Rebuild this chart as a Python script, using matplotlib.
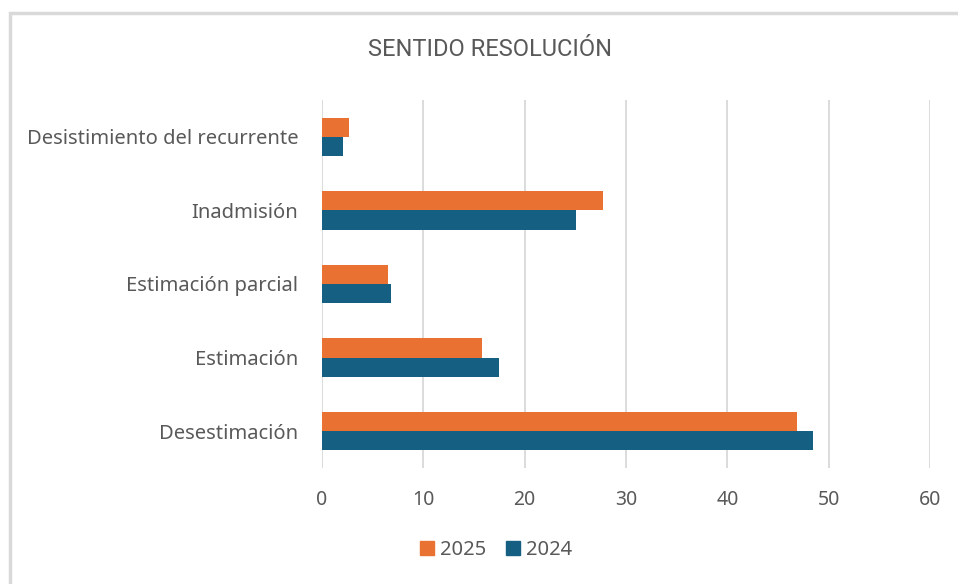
import matplotlib
matplotlib.use("Agg")
import matplotlib.pyplot as plt
from matplotlib.patches import Rectangle, Patch
import numpy as np

categories = ["Desestimación", "Estimación", "Estimación parcial", "Inadmisión",
              "Desistimiento del recurrente"]
values_2025 = [46.9, 15.8, 6.5, 27.7, 2.7]
values_2024 = [48.5, 17.5, 6.8, 25.1, 2.1]
xticks = [0, 10, 20, 30, 40, 50, 60]
title = "SENTIDO RESOLUCIÓN"

c2025 = "#E97132"
c2024 = "#156082"
txt = "#595959"

plt.rcParams['font.family'] = ['Noto Sans', 'DejaVu Sans']

fig = plt.figure(figsize=(9.58, 5.84), dpi=100)
fig.patches.append(Rectangle((10/958, -0.1), 1.1, 1.1 - 13/584,
                             transform=fig.transFigure, fill=False,
                             edgecolor="#D9D9D9", linewidth=2.5))
ax = fig.add_axes([322/958, 1-468/584, (930-322)/958, (468-100)/584])

y = np.arange(len(categories))
h = 0.26
ax.barh(y + h/2, values_2025, height=h, color=c2025, label="2025", zorder=3)
ax.barh(y - h/2, values_2024, height=h, color=c2024, label="2024", zorder=3)

ax.set_xlim(0, 60)
ax.set_ylim(-0.5, len(categories) - 0.5)
ax.set_xticks(xticks)
ax.set_xticklabels([str(t) for t in xticks])
ax.set_yticks(y)
ax.set_yticklabels(categories)
ax.grid(axis="x", color="#D9D9D9", linewidth=1.3, zorder=0)
for s in ax.spines.values():
    s.set_visible(False)
ax.tick_params(axis="both", length=0, labelcolor=txt, labelsize=14)
ax.tick_params(axis="y", labelsize=14.5, pad=17)
ax.tick_params(axis="x", pad=16)

fig.text(490/958, 1-50/584, title, ha="center", va="center", fontsize=17,
         color=txt, family=['Roboto', 'DejaVu Sans'])

handles = [Patch(color=c2025, label="2025"), Patch(color=c2024, label="2024")]
fig.legend(handles=handles, loc="center", bbox_to_anchor=(496/958, 1-550/584),
           ncol=2, frameon=False, fontsize=14.5, labelcolor=txt,
           handlelength=0.7, handleheight=0.7, handletextpad=0.3, columnspacing=1.0)

fig.savefig("out.png", dpi=100, facecolor="white")
